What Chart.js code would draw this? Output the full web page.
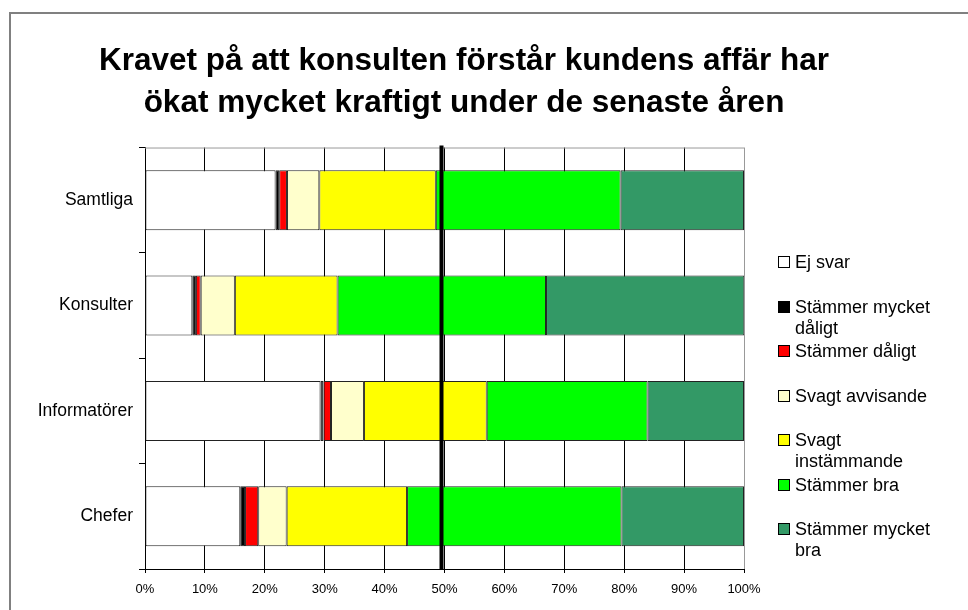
<!DOCTYPE html>
<html>
<head>
<meta charset="utf-8">
<script src="https://cdn.jsdelivr.net/npm/chart.js@4"></script>
<style>
  body { margin: 0; background: #fff; font-family: "Liberation Sans", Arial, sans-serif; }
  #frame { position: absolute; left: 9px; top: 12px; width: 1000px; height: 700px;
           border-left: 2px solid #808080; border-top: 2px solid #808080; }
  #wrap { position: absolute; left: 0; top: 0; width: 928px; height: 610px; }
  #legend { position: absolute; left: 778px; top: 252px; }
  .item { display: flex; height: 44.5px; align-items: flex-start; }
  .box { width: 10px; height: 10px; border: 1px solid #000; margin-top: 4px; margin-right: 5px; flex: none; }
  .lbl { font-size: 18px; line-height: 21px; width: 150px; color: #000; }
</style>
</head>
<body>
<div id="frame"></div>
<div id="wrap"><canvas id="chart"></canvas></div>
<div id="legend"></div>
<script>
const categories = ['Samtliga', 'Konsulter', 'Informatörer', 'Chefer'];
const seriesNames = ['Ej svar', 'Stämmer mycket dåligt', 'Stämmer dåligt', 'Svagt avvisande',
                     'Svagt instämmande', 'Stämmer bra', 'Stämmer mycket bra'];
const ejSvar       = [21.8, 7.9, 29.3, 15.9];
const mycketDaligt = [0.6, 0.6, 0.5, 0.8];
const daligt       = [1.3, 0.8, 1.25, 2.2];
const svagtAvvis   = [5.4, 5.7, 5.5, 4.75];
const svagtInst    = [19.45, 17.15, 20.5, 20.1];
const bra          = [30.85, 34.8, 26.85, 35.8];
const mycketBra    = [20.6, 33.1, 16.1, 20.45];
const xTicks = [0, 10, 20, 30, 40, 50, 60, 70, 80, 90, 100];
const refLine = 49.5;

const colors = ['#ffffff', '#000000', '#ff0000', '#ffffcc', '#ffff00', '#00ff00', '#339966'];
const values = [ejSvar, mycketDaligt, daligt, svagtAvvis, svagtInst, bra, mycketBra];

const datasets = seriesNames.map((name, i) => ({
    label: name,
    data: values[i],
    backgroundColor: colors[i],
    borderColor: '#222',
    borderWidth: 1,
    borderSkipped: false,
    barPercentage: 0.57,
    categoryPercentage: 1
}));

// legend as html so the labels can wrap like the original
const legend = document.getElementById('legend');
seriesNames.forEach((name, i) => {
    const it = document.createElement('div');
    it.className = 'item';
    it.innerHTML = '<div class="box" style="background:' + colors[i] + '"></div><div class="lbl">' + name + '</div>';
    legend.appendChild(it);
});

const extras = {
    id: 'extras',
    afterDatasetsDraw(chart) {
        const { ctx, chartArea, scales } = chart;
        ctx.save();
        // grey plot border on top
        ctx.strokeStyle = '#999';
        ctx.lineWidth = 1;
        ctx.beginPath();
        ctx.moveTo(chartArea.left, chartArea.top + 0.5);
        ctx.lineTo(chartArea.right, chartArea.top + 0.5);
        ctx.stroke();
        // thick reference line
        const x = scales.x.getPixelForValue(refLine);
        ctx.strokeStyle = '#000';
        ctx.lineWidth = 4;
        ctx.beginPath();
        ctx.moveTo(x, chartArea.top - 2);
        ctx.lineTo(x, chartArea.bottom);
        ctx.stroke();
        ctx.restore();
    }
};

new Chart(document.getElementById('chart'), {
    type: 'bar',
    data: { labels: categories, datasets: datasets },
    options: {
        indexAxis: 'y',
        responsive: true,
        maintainAspectRatio: false,
        animation: false,
        layout: { padding: 0 },
        scales: {
            x: {
                stacked: true,
                min: 0,
                max: 100,
                afterBuildTicks: (s) => { s.ticks = xTicks.map(v => ({ value: v })); },
                afterFit: (s) => { s.height = 41; },
                ticks: {
                    callback: (v) => v + '%',
                    color: '#000',
                    font: { family: 'Liberation Sans, Arial, sans-serif', size: 13 },
                    padding: 9,
                    maxRotation: 0
                },
                grid: {
                    color: (c) => c.tick && c.tick.value === 100 ? '#999' : '#000',
                    tickColor: '#000',
                    tickLength: 4,
                    lineWidth: 1
                },
                border: { color: '#000', width: 1 }
            },
            y: {
                stacked: true,
                afterFit: (s) => { s.width = 145; },
                ticks: {
                    color: '#000',
                    font: { family: 'Liberation Sans, Arial, sans-serif', size: 17.5 },
                    padding: 6
                },
                grid: {
                    drawOnChartArea: false,
                    tickColor: '#000',
                    tickLength: 6
                },
                border: { color: '#000', width: 1 }
            },
            // empty space on the right for the legend, keeps the title centred on the canvas
            spacer: {
                type: 'category',
                axis: 'y',
                position: 'right',
                afterFit: (s) => { s.width = 184; },
                ticks: { display: false },
                grid: { display: false },
                border: { display: false }
            }
        },
        plugins: {
            legend: { display: false },
            tooltip: { enabled: false },
            title: {
                display: true,
                text: ['Kravet på att konsulten förstår kundens affär har',
                       'ökat mycket kraftigt under de senaste åren'],
                color: '#000',
                font: { family: 'Liberation Sans, Arial, sans-serif', size: 31.5, weight: 'bold', lineHeight: 1.31 },
                padding: { top: 41, bottom: 24 }
            }
        }
    },
    plugins: [extras]
});
</script>
</body>
</html>
